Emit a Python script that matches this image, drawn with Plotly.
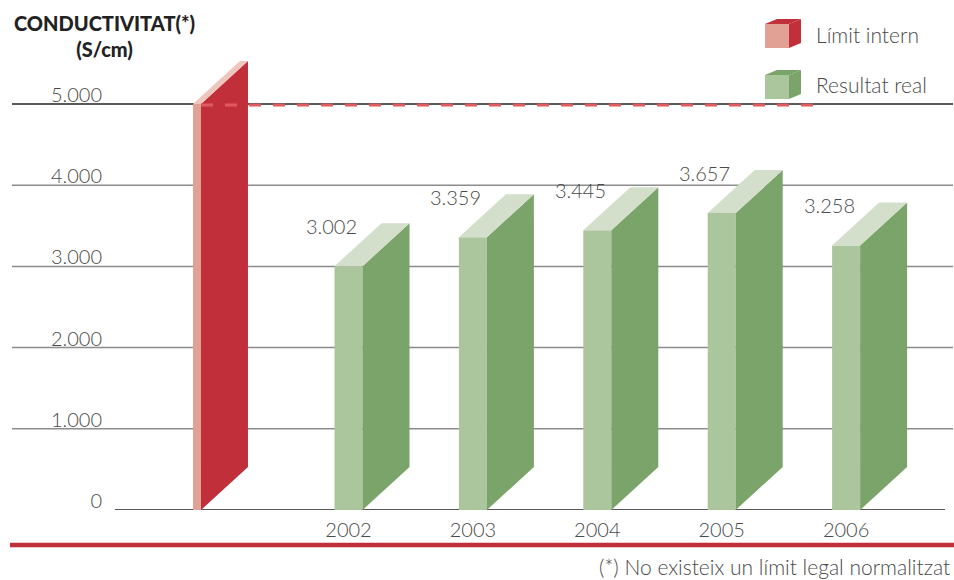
#%%
import plotly.graph_objects as go

#%% data
years = ["2002", "2003", "2004", "2005", "2006"]
results = [3002, 3359, 3445, 3657, 3258]
limit_value = 5000
y_ticks = [0, 1000, 2000, 3000, 4000, 5000]
y_ticktext = ["0", "1.000", "2.000", "3.000", "4.000", "5.000"]
legend_labels = ["Límit intern", "Resultat real"]
title_text = "CONDUCTIVITAT(*)<br>(S/cm)"
footnote = "(*) No existeix un límit legal normalitzat"

#%% styles / geometry
W, H = 954, 580
ML, MR, MT, MB = 115, 9, 40, 70
PX_PER_X = 124.4            # px per category step
PX_PER_Y = 0.0812           # px per unit
X0 = (115 - 348.5) / PX_PER_X
X1 = (945 - 348.5) / PX_PER_X
Y1 = (H - MT - MB) / PX_PER_Y

GREEN_W = 28 / PX_PER_X
RED_W = 8 / PX_PER_X
DEPTH_X = 47 / PX_PER_X
DEPTH_Y = 43 / PX_PER_Y
LIMIT_POS = -1.218
DASH_END = (822 - 348.5) / PX_PER_X

red = dict(front="#e1a194", side="#c02f3a", top="#efc6bc")
green = dict(front="#abc59c", side="#7ba46a", top="#d3dfca")
text_col = "#4a4a4a"
FONT = "Lato"


def px2paper_x(px):
    return (px - ML) / (W - ML - MR)


def px2paper_y(py):
    return (H - MB - py) / (H - MT - MB)


def bar3d(fig, center, width, value, col):
    xl = center - width / 2
    xr = xl + width
    faces = [
        ([xl, xr, xr, xl], [0, 0, value, value], col["front"]),
        ([xr, xr + DEPTH_X, xr + DEPTH_X, xr], [0, DEPTH_Y, value + DEPTH_Y, value], col["side"]),
        ([xl, xr, xr + DEPTH_X, xl + DEPTH_X], [value, value, value + DEPTH_Y, value + DEPTH_Y], col["top"]),
    ]
    for xs, ys, c in faces:
        fig.add_trace(go.Scatter(
            x=xs, y=ys, fill="toself", fillcolor=c, mode="lines",
            line=dict(width=0, color=c), hoverinfo="skip", showlegend=False,
        ))
    return xl, xr


fig = go.Figure()

# limit bar
lxl, lxr = bar3d(fig, LIMIT_POS, RED_W, limit_value, red)

# result bars + value labels
for i, (yr, v) in enumerate(zip(years, results)):
    xl, xr = bar3d(fig, i, GREEN_W, v, green)
    fig.add_annotation(
        x=xl, y=v, text=f"{v:,}".replace(",", "."), showarrow=False,
        xshift=-3, yshift=40, font=dict(family=FONT, size=20, color=text_col, weight=300),
    )

# gridlines (below)
for t in y_ticks[1:]:
    fig.add_shape(
        type="line", xref="paper", yref="y", layer="below", opacity=1,
        x0=px2paper_x(12), x1=px2paper_x(953), y0=t, y1=t,
        line=dict(color="#222222" if t == limit_value else "#8c8c8c", width=1.5),
    )
fig.add_shape(
    type="line", xref="paper", yref="y", layer="below", opacity=1,
    x0=px2paper_x(115), x1=px2paper_x(945), y0=0, y1=0,
    line=dict(color="#222222", width=1.5),
)

# dashed limit line
fig.add_shape(
    type="line", xref="x", yref="y", layer="above", opacity=1,
    x0=lxr, x1=DASH_END, y0=limit_value - 12, y1=limit_value - 12,
    line=dict(color="#e05a60", width=3, dash="12px,12px"),
)

# bottom red rule
fig.add_shape(
    type="line", xref="paper", yref="paper", opacity=1,
    x0=px2paper_x(10), x1=px2paper_x(954), y0=px2paper_y(545), y1=px2paper_y(545),
    line=dict(color="#c02f3a", width=4.5),
)

# legend cubes
def cube(x, y, col, top):
    s, dx, dy = 24, 12, 5
    front = [(x, y), (x + s, y), (x + s, y + s), (x, y + s)]
    side = [(x + s, y), (x + s + dx, y - dy), (x + s + dx, y + s - dy), (x + s, y + s)]
    topf = [(x, y), (x + s, y), (x + s + dx, y - dy), (x + dx, y - dy)]
    for pts, c in [(front, col["front"]), (side, col["side"]), (topf, top)]:
        path = "M " + " L ".join(f"{px2paper_x(a):.5f},{px2paper_y(b):.5f}" for a, b in pts) + " Z"
        fig.add_shape(type="path", xref="paper", yref="paper", path=path, opacity=1,
                      fillcolor=c, line=dict(width=0))


cube(765, 24, red, red["side"])
cube(765, 75, green, green["side"])
for lab, yy in zip(legend_labels, [35, 85]):
    fig.add_annotation(
        xref="paper", yref="paper", x=px2paper_x(814), y=px2paper_y(yy),
        text=lab, showarrow=False, xanchor="left", yanchor="middle",
        font=dict(family=FONT, size=21, color=text_col, weight=300),
    )

# title
fig.add_annotation(
    xref="paper", yref="paper", x=px2paper_x(104), y=px2paper_y(36),
    text=title_text, showarrow=False, xanchor="center", yanchor="middle", align="center",
    font=dict(family=FONT, size=20, color="#222222", weight=900),
)

# footnote
fig.add_annotation(
    xref="paper", yref="paper", x=px2paper_x(952), y=px2paper_y(566),
    text=footnote, showarrow=False, xanchor="right", yanchor="middle",
    font=dict(family=FONT, size=21, color=text_col, weight=300),
)

fig.update_layout(
    width=W, height=H, template="none",
    margin=dict(l=ML, r=MR, t=MT, b=MB),
    plot_bgcolor="white", paper_bgcolor="white",
    showlegend=False, separators=",.",
)
fig.update_xaxes(
    range=[X0, X1], showline=False, ticks="", showgrid=False, zeroline=False,
    tickvals=list(range(len(years))), ticktext=years,
    tickfont=dict(family=FONT, size=20, color=text_col, weight=300),
    ticklabelstandoff=6,
)
fig.update_yaxes(
    range=[0, Y1], showline=False, ticks="", showgrid=False, zeroline=False,
    tickvals=y_ticks, ticktext=y_ticktext,
    tickfont=dict(family=FONT, size=20, color=text_col, weight=300),
    ticklabelstandoff=12, ticklabelshift=-9,
)

fig.write_html("out.html", config={"displayModeBar": False},
               post_script="document.body.style.margin='0';")
